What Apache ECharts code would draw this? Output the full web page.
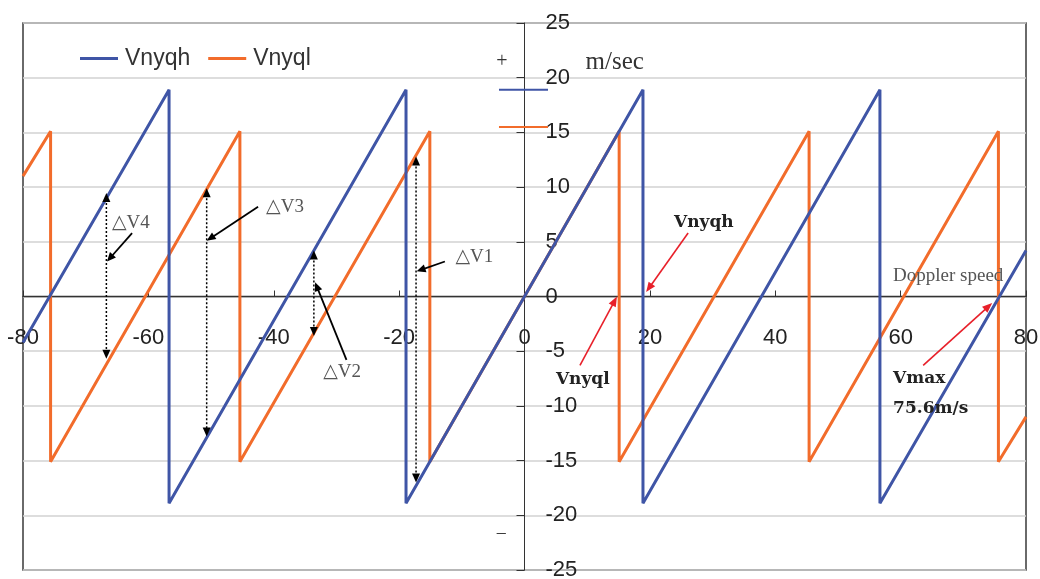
<!DOCTYPE html>
<html><head><meta charset="utf-8">
<script src="https://cdn.jsdelivr.net/npm/echarts@6/dist/echarts.min.js"></script>
<style>html,body{margin:0;padding:0;background:#fff}#c{width:1040px;height:579px}</style>
</head><body><div id="c"></div>
<script>
// ---- axes ----
const xMin = -80, xMax = 80, xStep = 20;
const yMin = -25, yMax = 25, yStep = 5;
// ---- series data (vertices) ----
const seriesNames = ['Vnyqh', 'Vnyql'];
const vnyqhX = [-80, -56.7, -56.7, -18.9, -18.9, 18.9, 18.9, 56.7, 56.7, 80];
const vnyqhY = [-4.2, 18.9, -18.9, 18.9, -18.9, 18.9, -18.9, 18.9, -18.9, 4.2];
const vnyqlX = [-80, -75.6, -75.6, -45.4, -45.4, -15.1, -15.1, 15.1, 15.1, 45.4, 45.4, 75.6, 75.6, 80];
const vnyqlY = [11.0, 15.1, -15.1, 15.1, -15.1, 15.1, -15.1, 15.1, -15.1, 15.1, -15.1, 15.1, -15.1, -11.0];
// ---- annotations (data coordinates) ----
const deltaArrowX = [-66.7, -50.7, -33.6, -17.3];
const deltaArrowTop = [9.45, 9.9, 4.2, 12.8];
const deltaArrowBottom = [-5.7, -12.8, -3.6, -17.0];
const deltaNames = ['△V4', '△V3', '△V2', '△V1'];
const deltaLabelPos = [[-62.8, 6.7], [-38.2, 8.2], [-29.1, -6.9], [-8.0, 3.6]];
const deltaPointerFrom = [[-62.6, 5.8], [-42.5, 8.2], [-28.4, -5.8], [-12.7, 3.2]];
const deltaPointerTo = [[-66.6, 3.2], [-50.7, 5.1], [-33.4, 1.3], [-17.2, 2.3]];
const boldNames = ['Vnyqh', 'Vnyql'];
const boldLabelPos = [[28.6, 6.8], [9.3, -7.6]];
const vmaxLines = ['Vmax', '75.6m/s'];
const vmaxPos = [[58.8, -7.5], [58.8, -10.2]];
const redPointerFrom = [[26.1, 5.8], [8.85, -6.3], [63.6, -6.3]];
const redPointerTo = [[19.4, 0.4], [14.75, 0.0], [74.6, -0.6]];
const dopplerText = 'Doppler speed';
const dopplerPos = [58.8, 1.9];
const unitText = 'm/sec';
const unitPos = [14.4, 21.4];
const plusPos = [-3.6, 21.5];
const minusPos = [-3.7, -21.6];
const keyLineX = [-4.07, 3.75];
const keyLineY = [18.9, 15.5];

const colors = ['#3F55A6', '#F26C2B'];
const zip = (xs, ys) => xs.map((x, i) => [x, ys[i]]);

const G = {left: 23, right: 14, top: 23, bottom: 9};
const W = 1040 - G.left - G.right, H = 579 - G.top - G.bottom;

const chart = echarts.init(document.getElementById('c'), null, {renderer: 'canvas'});
const option = {
  animation: false,
  backgroundColor: '#fff',
  grid: {left: G.left, right: G.right, top: G.top, bottom: G.bottom, containLabel: false, outerBoundsMode: 'none',
    show: true, borderColor: '#3a3a3a', borderWidth: 1.5, backgroundColor: 'transparent'},
  legend: {
    data: seriesNames, left: 75, top: 42, icon: 'rect', itemWidth: 38, itemHeight: 3, itemGap: 18,
    textStyle: {fontFamily: 'Liberation Sans, Arial, sans-serif', fontSize: 23, color: '#333', padding: [0, 0, 0, 2]}
  },
  xAxis: {
    type: 'value', min: xMin, max: xMax, interval: xStep, position: 'bottom',
    offset: -H * (0 - yMin) / (yMax - yMin),
    axisLine: {onZero: false, lineStyle: {color: '#333', width: 1.3}},
    axisTick: {show: true, inside: true, length: 6, lineStyle: {color: '#333'}},
    axisLabel: {margin: 30, fontFamily: 'Liberation Sans, Arial, sans-serif', fontSize: 22, color: '#222'},
    splitLine: {show: false}
  },
  yAxis: {
    type: 'value', min: yMin, max: yMax, interval: yStep, position: 'left',
    offset: -W * (0 - xMin) / (xMax - xMin),
    axisLine: {onZero: false, lineStyle: {color: '#333', width: 1}},
    axisTick: {show: true, inside: false, length: 8, lineStyle: {color: '#333'}},
    axisLabel: {inside: true, margin: 21, align: 'left', fontFamily: 'Liberation Sans, Arial, sans-serif', fontSize: 22, color: '#222'},
    splitLine: {show: true, lineStyle: {color: '#d2d2d2', width: 1.5}}
  },
  series: [
    {name: seriesNames[0], type: 'line', data: zip(vnyqhX, vnyqhY), showSymbol: false, symbol: 'none', color: colors[0], lineStyle: {width: 3, color: colors[0]}, z: 3},
    {name: seriesNames[1], type: 'line', data: zip(vnyqlX, vnyqlY), showSymbol: false, symbol: 'none', color: colors[1], lineStyle: {width: 3, color: colors[1]}, z: 2}
  ]
};
chart.setOption(option);

const P = (p) => chart.convertToPixel({gridIndex: 0}, p);
function head(from, tip, L, Wd, color) {
  const dx = tip[0] - from[0], dy = tip[1] - from[1];
  const d = Math.hypot(dx, dy) || 1;
  const ux = dx / d, uy = dy / d;
  const bx = tip[0] - ux * L, by = tip[1] - uy * L;
  return {type: 'polygon', z: 100, shape: {points: [[tip[0], tip[1]], [bx - uy * Wd, by + ux * Wd], [bx + uy * Wd, by - ux * Wd]]}, style: {fill: color}};
}
function line(a, b, color, width, dash) {
  return {type: 'line', z: 100, shape: {x1: a[0], y1: a[1], x2: b[0], y2: b[1]}, style: {stroke: color, lineWidth: width, lineDash: dash || null}};
}
function text(t, p, font, fill, align) {
  return {type: 'text', z: 101, x: p[0], y: p[1], style: {text: t, font: font, fill: fill, align: align || 'center', verticalAlign: 'middle'}};
}
const g = [];
const serif = "'Liberation Serif', 'DejaVu Serif', serif";
keyLineY.forEach((y, i) => g.push(line(P([keyLineX[0], y]), P([keyLineX[1], y]), colors[i], 2)));
deltaArrowX.forEach((x, i) => {
  const t = P([x, deltaArrowTop[i]]), b = P([x, deltaArrowBottom[i]]);
  g.push(line([t[0], t[1] + 6], [b[0], b[1] - 6], '#000', 1.5, [2, 2]));
  g.push(head(b, t, 9, 4, '#000'));
  g.push(head(t, b, 9, 4, '#000'));
});
deltaNames.forEach((n, i) => {
  g.push(text(n, P(deltaLabelPos[i]), '19px ' + serif, '#555'));
  const a = P(deltaPointerFrom[i]), b = P(deltaPointerTo[i]);
  const dx = b[0] - a[0], dy = b[1] - a[1], d = Math.hypot(dx, dy);
  g.push(line(a, [b[0] - dx / d * 6, b[1] - dy / d * 6], '#000', 1.8));
  g.push(head(a, b, 9, 4, '#000'));
});
redPointerFrom.forEach((f, i) => {
  const a = P(f), b = P(redPointerTo[i]);
  const dx = b[0] - a[0], dy = b[1] - a[1], d = Math.hypot(dx, dy);
  g.push(line(a, [b[0] - dx / d * 6, b[1] - dy / d * 6], '#E8202A', 1.6));
  g.push(head(a, b, 10, 4, '#E8202A'));
});
const boldFont = "bold 17px 'DejaVu Serif', serif";
boldNames.forEach((n, i) => g.push(text(n, P(boldLabelPos[i]), boldFont, '#222')));
vmaxLines.forEach((n, i) => g.push(text(n, P(vmaxPos[i]), boldFont, '#222', 'left')));
g.push(text(dopplerText, P(dopplerPos), '19px ' + serif, '#555', 'left'));
g.push(text(unitText, P(unitPos), '25px ' + serif, '#333'));
g.push(text('+', P(plusPos), '20px ' + serif, '#333'));
g.push(text('–', P(minusPos), '18px ' + serif, '#333'));
chart.setOption({graphic: {elements: g}});
</script></body></html>
